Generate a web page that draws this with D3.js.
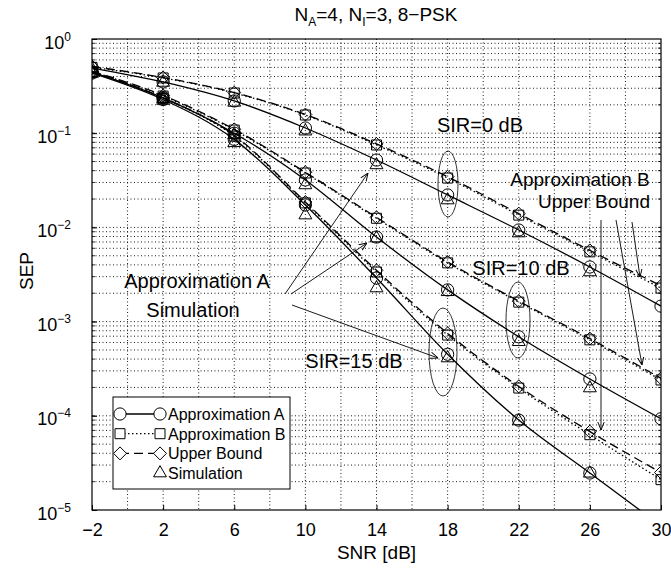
<!DOCTYPE html>
<html>
<head>
<meta charset="utf-8">
<script src="https://cdn.jsdelivr.net/npm/d3@7"></script>
<style>
  body { margin: 0; background: #fff; }
  svg { font-family: "Liberation Sans", Arial, sans-serif; display: block; }
</style>
</head>
<body>
<div id="chart"></div>
<script>
// SNR points (dB)
const snr = [-2, 2, 6, 10, 14, 18, 22, 26, 30];
const snrSim = [-2, 2, 6, 10, 14, 18, 22, 26];

// SIR = 0 dB
const sir0ApproxA = [0.492, 0.350, 0.220, 0.1135, 0.0519, 0.0221, 0.00938, 0.0038, 0.00146];
const sir0ApproxB = [0.500, 0.386, 0.267, 0.156, 0.075, 0.0334, 0.0135, 0.0055, 0.00227];
const sir0Upper = [0.510, 0.390, 0.270, 0.158, 0.077, 0.0345, 0.0140, 0.0057, 0.00240];
const sir0Sim = [0.480, 0.345, 0.212, 0.105, 0.046, 0.0195, 0.0087, 0.00336];

// SIR = 10 dB
const sir10ApproxA = [0.445, 0.237, 0.100, 0.0319, 0.0079, 0.00217, 0.00069, 0.000246, 0.000093];
const sir10ApproxB = [0.450, 0.248, 0.108, 0.0378, 0.0125, 0.0042, 0.00161, 0.00064, 0.00024];
const sir10Upper = [0.455, 0.252, 0.110, 0.0385, 0.0128, 0.0043, 0.00165, 0.00066, 0.00025];
const sir10Sim = [0.440, 0.232, 0.096, 0.0282, 0.0077, 0.00207, 0.00061, 0.000197];

// SIR = 15 dB
const sir15ApproxA = [0.435, 0.228, 0.086, 0.0173, 0.0029, 0.00045, 0.000090, 0.0000247, 0.0000068];
const sir15ApproxB = [0.440, 0.235, 0.093, 0.0182, 0.00336, 0.00072, 0.000197, 0.000063, 0.000021];
const sir15Upper = [0.445, 0.238, 0.095, 0.0186, 0.0035, 0.00075, 0.000205, 0.000068, 0.000025];
const sir15Sim = [0.430, 0.222, 0.079, 0.0135, 0.00227, 0.00041, 0.000088, 0.0000245];

const xTicks = [-2, 2, 6, 10, 14, 18, 22, 26, 30];
const yTicks = [1, 1e-1, 1e-2, 1e-3, 1e-4, 1e-5];
const yTickExponents = ["0", "\u22121", "\u22122", "\u22123", "\u22124", "\u22125"];
const legendLabels = ["Approximation A", "Approximation B", "Upper Bound", "Simulation"];

// square rotated 45 degrees, like the matlab diamond
const symbolDiamondSq = {
  draw(ctx, size) {
    const r = Math.sqrt(size / 2);
    ctx.moveTo(0, -r);
    ctx.lineTo(r, 0);
    ctx.lineTo(0, r);
    ctx.lineTo(-r, 0);
    ctx.closePath();
  }
};

const styles = {
  A: { dash: null, symbol: d3.symbolCircle, size: 118 },
  B: { dash: '1.5,2.5', symbol: d3.symbolSquare, size: 100 },
  UB: { dash: '9,5', symbol: symbolDiamondSq, size: 84 },
  Sim: { dash: null, symbol: d3.symbolTriangle, size: 72 }
};

class SepChart {
  constructor(config) {
    this.config = config;

    this.svg = null;
    this.margins = null;

    this.xScale = null;
    this.yScale = null;

    this.series = [];

    this.createSvg();
    this.createMargins();
  }

  createSvg() {
    this.svg = d3.select(this.config.div)
      .append('svg')
      .attr('width', this.config.width + this.config.left + this.config.right)
      .attr('height', this.config.height + this.config.top + this.config.bottom);

    let defs = this.svg.append('defs');
    defs.append('clipPath')
      .attr('id', 'plot-clip')
      .append('rect')
      .attr('width', this.config.width)
      .attr('height', this.config.height);

    defs.append('marker')
      .attr('id', 'arrow')
      .attr('viewBox', '0 0 10 10')
      .attr('refX', 10)
      .attr('refY', 5)
      .attr('markerWidth', 8)
      .attr('markerHeight', 8)
      .attr('markerUnits', 'userSpaceOnUse')
      .attr('orient', 'auto')
      .append('path')
      .attr('d', 'M0,1 L10,5 L0,9')
      .attr('fill', 'none')
      .attr('stroke', '#000')
      .attr('stroke-width', 1.2);
  }

  createMargins() {
    this.margins = this.svg
      .append('g')
      .attr('transform', `translate(${this.config.left},${this.config.top})`);
  }

  loadData() {
    const add = (values, xs, kind) => {
      this.series.push({ kind: kind, points: xs.map((x, i) => ({ x: x, y: values[i] })) });
    };
    add(sir0ApproxA, snr, 'A'); add(sir0ApproxB, snr, 'B'); add(sir0Upper, snr, 'UB'); add(sir0Sim, snrSim, 'Sim');
    add(sir10ApproxA, snr, 'A'); add(sir10ApproxB, snr, 'B'); add(sir10Upper, snr, 'UB'); add(sir10Sim, snrSim, 'Sim');
    add(sir15ApproxA, snr, 'A'); add(sir15ApproxB, snr, 'B'); add(sir15Upper, snr, 'UB'); add(sir15Sim, snrSim, 'Sim');
  }

  createScales() {
    this.xScale = d3.scaleLinear().domain([-2, 30]).range([0, this.config.width]);
    this.yScale = d3.scaleLog().domain([1e-5, 1]).range([this.config.height, 0]);
  }

  createGrid() {
    let grid = this.margins.append('g')
      .attr('stroke', '#000')
      .attr('stroke-width', 0.9)
      .attr('stroke-dasharray', '1,2.5');

    let xGrid = d3.range(0, 30, 2);
    grid.selectAll('line.v')
      .data(xGrid)
      .join('line')
      .attr('class', 'v')
      .attr('x1', d => this.xScale(d))
      .attr('x2', d => this.xScale(d))
      .attr('y1', 0)
      .attr('y2', this.config.height);

    let yGrid = [];
    for (let e = -5; e < 0; e++) {
      for (let m = 1; m < 10; m++) {
        if (!(e === -5 && m === 1)) yGrid.push(m * Math.pow(10, e));
      }
    }
    grid.selectAll('line.h')
      .data(yGrid)
      .join('line')
      .attr('class', 'h')
      .attr('x1', 0)
      .attr('x2', this.config.width)
      .attr('y1', d => this.yScale(d))
      .attr('y2', d => this.yScale(d));

    // minor ticks on left and right
    let minor = this.margins.append('g').attr('stroke', '#000').attr('stroke-width', 0.8);
    minor.selectAll('line.l')
      .data(yGrid)
      .join('line')
      .attr('class', 'l')
      .attr('x1', 0).attr('x2', 3)
      .attr('y1', d => this.yScale(d)).attr('y2', d => this.yScale(d));
    minor.selectAll('line.r')
      .data(yGrid)
      .join('line')
      .attr('class', 'r')
      .attr('x1', this.config.width - 3).attr('x2', this.config.width)
      .attr('y1', d => this.yScale(d)).attr('y2', d => this.yScale(d));
  }

  createAxis() {
    let xAxis = d3.axisBottom(this.xScale)
      .tickValues(xTicks)
      .tickFormat(d => d < 0 ? '\u2212' + Math.abs(d) : d)
      .tickSizeInner(-5)
      .tickSizeOuter(0)
      .tickPadding(13);
    let yAxis = d3.axisLeft(this.yScale)
      .tickValues(yTicks)
      .tickSizeInner(-5)
      .tickSizeOuter(0)
      .tickPadding(21);

    let gx = this.margins
      .append('g')
      .attr('transform', `translate(0,${this.config.height})`)
      .call(xAxis);
    gx.selectAll('text').style('font-size', '18px').attr('fill', '#000');

    let gy = this.margins
      .append('g')
      .call(yAxis);
    gy.selectAll('text')
      .style('font-size', '18px')
      .attr('fill', '#000')
      .attr('dy', '0.5em')
      .each(function (d, i) {
        let t = d3.select(this).text('10');
        t.append('tspan')
          .attr('dy', -8)
          .style('font-size', '12px')
          .text(yTickExponents[i]);
      });

    this.margins.selectAll('.domain').remove();
    this.margins.selectAll('.tick line').attr('stroke', '#000');

    this.margins.append('rect')
      .attr('width', this.config.width)
      .attr('height', this.config.height)
      .attr('fill', 'none')
      .attr('stroke', '#000')
      .attr('stroke-width', 1.2);

    this.svg.append('text')
      .attr('x', this.config.left + this.config.width / 2)
      .attr('y', 559)
      .attr('text-anchor', 'middle')
      .style('font-size', '19px')
      .text('SNR [dB]');

    this.svg.append('text')
      .attr('transform', 'translate(33,271) rotate(-90)')
      .attr('text-anchor', 'middle')
      .style('font-size', '19px')
      .text('SEP');

    let title = this.svg.append('text')
      .attr('x', 376)
      .attr('y', 21)
      .attr('text-anchor', 'middle')
      .style('font-size', '19px');
    title.append('tspan').text('N');
    title.append('tspan').attr('dy', 5).style('font-size', '12px').text('A');
    title.append('tspan').attr('dy', -5).text('=4, N');
    title.append('tspan').attr('dy', 5).style('font-size', '12px').text('I');
    title.append('tspan').attr('dy', -5).text('=3, 8\u2212PSK');
  }

  render() {
    let line = d3.line()
      .x(d => this.xScale(d.x))
      .y(d => this.yScale(d.y))
      .curve(d3.curveMonotoneX);

    let plot = this.margins.append('g').attr('clip-path', 'url(#plot-clip)');

    plot.selectAll('path.curve')
      .data(this.series.filter(s => s.kind !== 'Sim'))
      .join('path')
      .attr('class', 'curve')
      .attr('d', d => line(d.points))
      .attr('fill', 'none')
      .attr('stroke', '#000')
      .attr('stroke-width', 1.3)
      .attr('stroke-dasharray', d => styles[d.kind].dash);

    let marks = [];
    this.series.forEach(s => s.points.forEach(p => {
      if (p.y >= 1e-5) marks.push({ kind: s.kind, x: p.x, y: p.y });
    }));

    plot.selectAll('path.mark')
      .data(marks)
      .join('path')
      .attr('class', 'mark')
      .attr('transform', d => `translate(${this.xScale(d.x)},${this.yScale(d.y)})`)
      .attr('d', d => d3.symbol().type(styles[d.kind].symbol).size(styles[d.kind].size)())
      .attr('fill', 'none')
      .attr('stroke', '#000')
      .attr('stroke-width', 1);
  }

  annotate() {
    let g = this.svg.append('g');
    let texts = [
      { t: 'SIR=0 dB', x: 480, y: 132, s: 20 },
      { t: 'Approximation B', x: 580, y: 186, s: 19 },
      { t: 'Upper Bound', x: 594, y: 208, s: 19 },
      { t: 'SIR=10 dB', x: 521, y: 275, s: 20 },
      { t: 'SIR=15 dB', x: 354, y: 368, s: 20 },
      { t: 'Approximation A', x: 197, y: 288, s: 20 },
      { t: 'Simulation', x: 193, y: 317, s: 20 }
    ];
    g.selectAll('text')
      .data(texts)
      .join('text')
      .attr('x', d => d.x)
      .attr('y', d => d.y)
      .attr('text-anchor', 'middle')
      .style('font-size', d => d.s + 'px')
      .text(d => d.t);

    let ellipses = [
      { cx: 448, cy: 184, rx: 10, ry: 33 },
      { cx: 518, cy: 320, rx: 12, ry: 38 },
      { cx: 443, cy: 352, rx: 14, ry: 44 }
    ];
    g.selectAll('ellipse')
      .data(ellipses)
      .join('ellipse')
      .attr('cx', d => d.cx).attr('cy', d => d.cy)
      .attr('rx', d => d.rx).attr('ry', d => d.ry)
      .attr('fill', 'none')
      .attr('stroke', '#000')
      .attr('stroke-width', 0.8);

    let arrows = [
      [285, 294, 368, 173],
      [291, 294, 367, 243],
      [292, 305, 438, 358],
      [616, 220, 642, 365],
      [632, 222, 640, 277],
      [601, 220, 601, 430]
    ];
    g.selectAll('line')
      .data(arrows)
      .join('line')
      .attr('x1', d => d[0]).attr('y1', d => d[1])
      .attr('x2', d => d[2]).attr('y2', d => d[3])
      .attr('stroke', '#000')
      .attr('stroke-width', 0.9)
      .attr('marker-end', 'url(#arrow)');
  }

  createLegend() {
    let lg = this.svg.append('g').attr('transform', 'translate(113,397)');
    lg.append('rect')
      .attr('width', 177)
      .attr('height', 92)
      .attr('fill', '#fff')
      .attr('stroke', '#000')
      .attr('stroke-width', 1);

    let kinds = ['A', 'B', 'UB', 'Sim'];
    let rows = lg.selectAll('g.row')
      .data(kinds)
      .join('g')
      .attr('class', 'row')
      .attr('transform', (d, i) => `translate(0,${17 + i * 19.7})`);

    rows.filter(d => d !== 'Sim')
      .append('line')
      .attr('x1', 7).attr('x2', 47)
      .attr('stroke', '#000')
      .attr('stroke-width', 1.3)
      .attr('stroke-dasharray', d => styles[d].dash);

    rows.each(function (d) {
      let ends = d === 'Sim' ? [47] : [7, 47];
      d3.select(this).selectAll('path')
        .data(ends)
        .join('path')
        .attr('transform', x => `translate(${x},0)`)
        .attr('d', d3.symbol().type(styles[d].symbol).size(styles[d].size)())
        .attr('fill', '#fff')
        .attr('stroke', '#000')
        .attr('stroke-width', 1);
    });

    rows.append('text')
      .attr('x', 55)
      .attr('y', 6)
      .style('font-size', '16px')
      .text((d, i) => legendLabels[i]);
  }
}

function main() {
  let c = { div: '#chart', width: 569, height: 471, top: 39, left: 92, bottom: 60, right: 10 };

  let app = new SepChart(c);
  app.loadData();
  app.createScales();
  app.createGrid();
  app.createAxis();
  app.render();
  app.annotate();
  app.createLegend();
}

main();
</script>
</body>
</html>
